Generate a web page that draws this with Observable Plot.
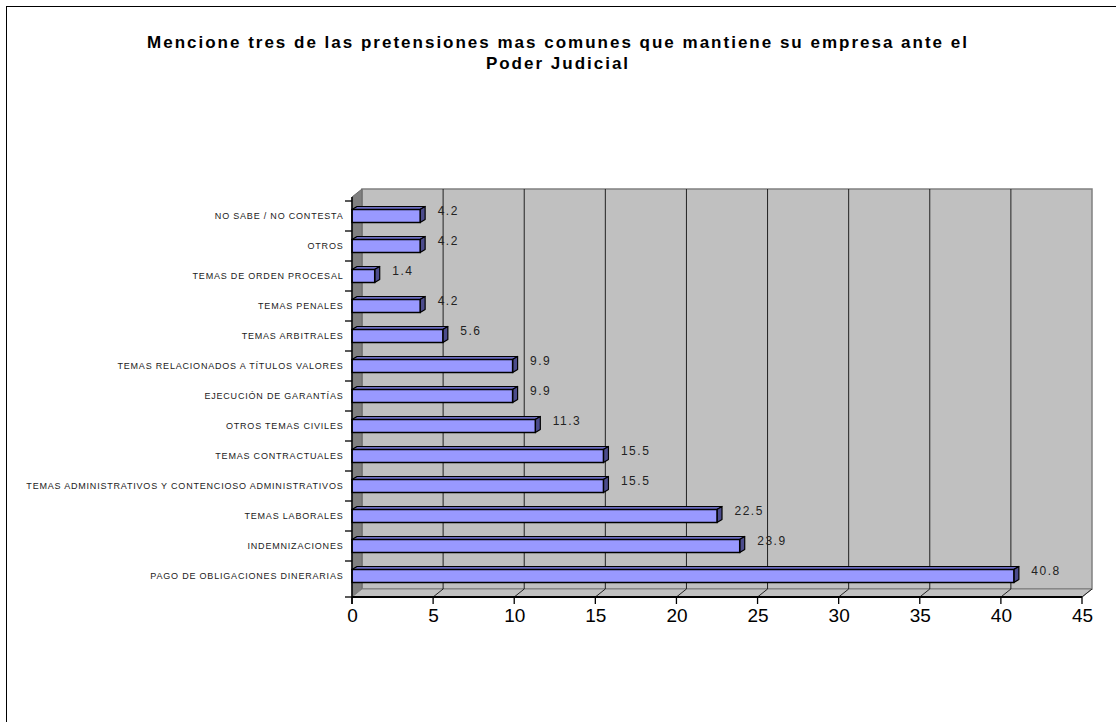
<!DOCTYPE html>
<html><head><meta charset="utf-8">
<script src="https://cdn.jsdelivr.net/npm/d3@7"></script>
<script src="https://cdn.jsdelivr.net/npm/@observablehq/plot@0.6"></script>
<style>
html,body{margin:0;padding:0;background:#fff;width:1116px;height:722px;overflow:hidden;}
#wrap{position:relative;width:1116px;height:722px;}
#border{position:absolute;left:6px;top:6px;width:1200px;height:800px;border-left:1.5px solid #000;border-top:1.5px solid #000;box-sizing:border-box;}
#title{position:absolute;left:0;top:32px;width:1116px;text-align:center;font:bold 17px "Liberation Sans",Arial,sans-serif;letter-spacing:2px;line-height:21px;color:#000;}
#chart{position:absolute;left:0;top:0;}
</style></head>
<body><div id="wrap"><div id="border"></div><div id="chart"></div>
<div id="title">Mencione tres de las pretensiones mas comunes que mantiene su empresa ante el<br>Poder Judicial</div></div>
<script>
const categories = [
  "NO SABE / NO CONTESTA",
  "OTROS",
  "TEMAS DE ORDEN PROCESAL",
  "TEMAS PENALES",
  "TEMAS ARBITRALES",
  "TEMAS RELACIONADOS A TÍTULOS VALORES",
  "EJECUCIÓN DE GARANTÍAS",
  "OTROS TEMAS CIVILES",
  "TEMAS CONTRACTUALES",
  "TEMAS ADMINISTRATIVOS Y CONTENCIOSO ADMINISTRATIVOS",
  "TEMAS LABORALES",
  "INDEMNIZACIONES",
  "PAGO DE OBLIGACIONES DINERARIAS"
];
const values = [4.2, 4.2, 1.4, 4.2, 5.6, 9.9, 9.9, 11.3, 15.5, 15.5, 22.5, 23.9, 40.8];
const xTicks = [0, 5, 10, 15, 20, 25, 30, 35, 40, 45];

const data = categories.map((c, i) => ({category: c, value: values[i]}));

const DX = 10, DY = -8;        // wall depth
const BDX = 5, BDY = 3;        // bar depth
const BAR_INSET = 8.5;

function walls(index, scales, vals, dim) {
  const {x} = scales;
  const g = d3.create("svg:g");
  const x0 = x(0), x1 = x(45);
  const top = dim.marginTop, bot = dim.height - dim.marginBottom;
  g.append("rect").attr("x", x0 + DX).attr("y", top + DY).attr("width", x1 - x0).attr("height", bot - top)
    .attr("fill", "#c0c0c0").attr("stroke", "#808080").attr("stroke-width", 1.5);
  g.append("path").attr("d", `M${x0},${top}L${x0 + DX},${top + DY}L${x0 + DX},${bot + DY}L${x0},${bot}Z`)
    .attr("fill", "#808080").attr("stroke", "#6a6a6a");
  g.append("path").attr("d", `M${x0},${bot}L${x0 + DX},${bot + DY}L${x1 + DX},${bot + DY}L${x1},${bot}Z`)
    .attr("fill", "#c0c0c0").attr("stroke", "#808080");
  for (const t of xTicks) {
    if (t > 0 && t < 45) {
      g.append("line").attr("x1", x(t) + DX).attr("x2", x(t) + DX).attr("y1", top + DY).attr("y2", bot + DY)
        .attr("stroke", "#222").attr("stroke-width", 1);
    }
    if (t > 0) {
      g.append("line").attr("x1", x(t)).attr("x2", x(t) + DX).attr("y1", bot).attr("y2", bot + DY)
        .attr("stroke", "#222").attr("stroke-width", 1);
    }
  }
  return g.node();
}

function barDepth(index, scales, vals, dim) {
  const {x, y} = scales;
  const bw = y.bandwidth();
  const g = d3.create("svg:g");
  for (const d of data) {
    const yT = y(d.category) + BAR_INSET, yB = y(d.category) + bw - BAR_INSET;
    const xa = x(0), xb = x(d.value);
    g.append("path").attr("d", `M${xa},${yT}L${xa + BDX},${yT - BDY}L${xb + BDX},${yT - BDY}L${xb},${yT}Z`)
      .attr("fill", "#6b6bc0").attr("stroke", "#000").attr("stroke-width", 1.2).attr("stroke-linejoin", "round");
    g.append("path").attr("d", `M${xb},${yT}L${xb + BDX},${yT - BDY}L${xb + BDX},${yB - BDY}L${xb},${yB}Z`)
      .attr("fill", "#4c4c8c").attr("stroke", "#000").attr("stroke-width", 1.2).attr("stroke-linejoin", "round");
  }
  return g.node();
}

function axes(index, scales, vals, dim) {
  const {x, y} = scales;
  const g = d3.create("svg:g");
  const x0 = x(0), x1 = x(45);
  const top = dim.marginTop, bot = dim.height - dim.marginBottom;
  g.append("line").attr("x1", x0).attr("x2", x1).attr("y1", bot).attr("y2", bot).attr("stroke", "#000").attr("stroke-width", 2);
  g.append("line").attr("x1", x0).attr("x2", x0).attr("y1", top).attr("y2", bot + 7).attr("stroke", "#000").attr("stroke-width", 1.5);
  for (const t of xTicks) {
    g.append("line").attr("x1", x(t)).attr("x2", x(t)).attr("y1", bot).attr("y2", bot + 7).attr("stroke", "#000").attr("stroke-width", 1.3);
  }
  const ys = categories.map(c => y(c)).concat([bot]);
  for (const yy of ys) {
    g.append("line").attr("x1", x0 - 7).attr("x2", x0).attr("y1", yy).attr("y2", yy).attr("stroke", "#000").attr("stroke-width", 1.3);
  }
  return g.node();
}

const fmt = d3.format(".1f");

const chart = Plot.plot({
  width: 1116,
  height: 722,
  marginLeft: 352,
  marginRight: 34,
  marginTop: 197,
  marginBottom: 125,
  style: {background: "transparent", fontFamily: "'Liberation Sans', Arial, sans-serif", overflow: "visible"},
  x: {domain: [0, 45], axis: null},
  y: {domain: categories, axis: null, padding: 0, insetBottom: 3},
  marks: [
    walls,
    barDepth,
    Plot.barX(data, {x: "value", y: "category", fill: "#9999ff", stroke: "#000", strokeWidth: 1.5, insetTop: BAR_INSET, insetBottom: BAR_INSET}),
    axes,
    Plot.text(data, {x: "value", y: "category", text: d => fmt(d.value), textAnchor: "start", dx: 17, dy: -5, fontSize: 12, fill: "#222"}),
    Plot.text(data, {y: "category", text: "category", frameAnchor: "left", textAnchor: "end", dx: -9, fontSize: 9, fill: "#222"}),
    Plot.text(xTicks, {x: d => d, text: d => String(d), frameAnchor: "bottom", dy: 24, fontSize: 19, fill: "#000"})
  ]
});
const catSet = new Set(categories);
const valSet = new Set(values.map(fmt));
chart.querySelectorAll("text").forEach(t => {
  const s = t.textContent;
  if (catSet.has(s)) t.setAttribute("letter-spacing", "0.8");
  else if (valSet.has(s)) t.setAttribute("letter-spacing", "1.5");
});
document.getElementById("chart").appendChild(chart);
</script>
</body></html>
